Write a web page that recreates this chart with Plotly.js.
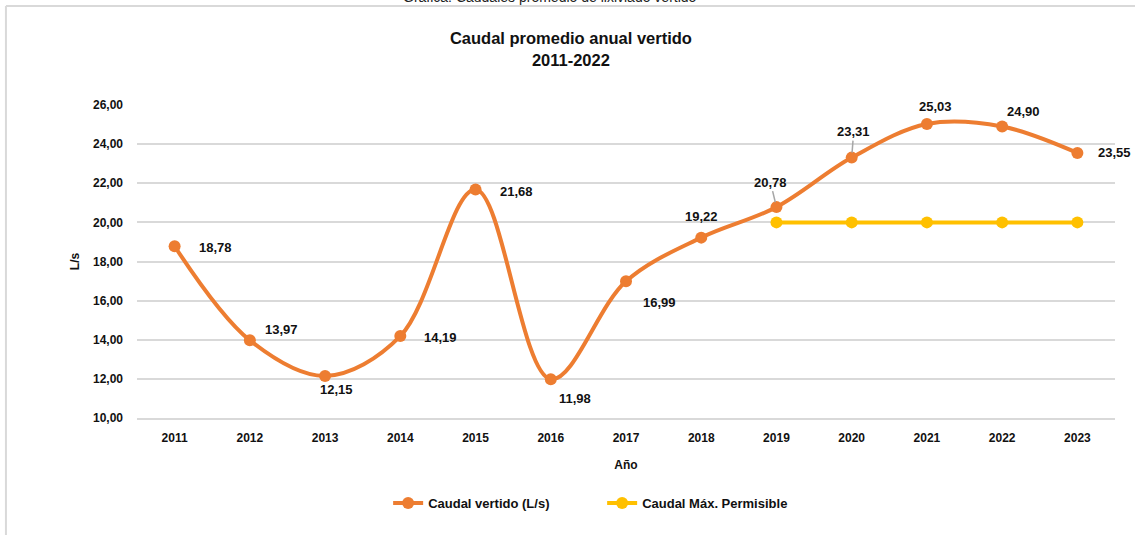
<!DOCTYPE html>
<html>
<head>
<meta charset="utf-8">
<script src="https://cdn.plot.ly/plotly-3.0.1.min.js"></script>
<style>html,body{margin:0;padding:0;background:#fff;}#chart{width:1135px;height:535px;}</style>
</head>
<body>
<div id="chart"></div>
<script>
// ---- data ----
const years = ['2011','2012','2013','2014','2015','2016','2017','2018','2019','2020','2021','2022','2023'];
const caudalVertido = [18.78, 13.97, 12.15, 14.19, 21.68, 11.98, 16.99, 19.22, 20.78, 23.31, 25.03, 24.90, 23.55];
const permYears = ['2019','2020','2021','2022','2023'];
const caudalMaxPermisible = [20, 20, 20, 20, 20];
const yTicks = [10, 12, 14, 16, 18, 20, 22, 24, 26];

// ---- label placement (pixel offsets, style only) ----
const labelOffsets = [
  [41, 1], [32, -11], [11, 14], [40, 1], [41, 2], [24, 19], [33, 21],
  [0, -21], [-6, -25], [2, -26], [9, -17], [21, -15], [37, 0]
];
const leaderIdx = [8, 9];

const FONT = 'Liberation Sans, Arial, sans-serif';
const fmt = v => v.toFixed(2).replace('.', ',');

const annotations = years.map((yr, i) => {
  const base = {
    x: years.indexOf(yr), y: caudalVertido[i], xref: 'x', yref: 'y',
    text: fmt(caudalVertido[i]),
    font: {family: FONT, size: 13, color: '#111', weight: 'bold'}
  };
  if (leaderIdx.includes(i)) {
    return Object.assign(base, {
      showarrow: true, arrowhead: 0, arrowwidth: 1.5, arrowcolor: '#a6a6a6',
      ax: labelOffsets[i][0], ay: labelOffsets[i][1], standoff: 5
    });
  }
  return Object.assign(base, {
    showarrow: false, xshift: labelOffsets[i][0], yshift: -labelOffsets[i][1]
  });
});

annotations.push({
  xref: 'paper', yref: 'paper', x: 0.4223, y: 1.345, xanchor: 'center', yanchor: 'middle',
  showarrow: false, text: 'Gráfica: Caudales promedio de lixiviado vertido',
  font: {family: FONT, size: 14, color: '#222'}
});

const traces = [
  {
    x: years, y: caudalVertido, name: 'Caudal vertido (L/s)',
    type: 'scatter', mode: 'lines+markers',
    line: {color: '#ED7D31', width: 4, shape: 'spline', smoothing: 1},
    marker: {color: '#ED7D31', size: 12}
  },
  {
    x: permYears, y: caudalMaxPermisible, name: 'Caudal Máx. Permisible',
    type: 'scatter', mode: 'lines+markers',
    line: {color: '#FFC000', width: 4},
    marker: {color: '#FFC000', size: 12}
  }
];

const layout = {
  width: 1135, height: 535,
  margin: {l: 137, r: 20, t: 105, b: 117},
  paper_bgcolor: '#fff', plot_bgcolor: '#fff',
  separators: ',.',
  font: {family: FONT, size: 12, color: '#111'},
  title: {
    text: 'Caudal promedio anual vertido<br>2011-2022',
    font: {family: FONT, size: 16.5, color: '#111', weight: 'bold'},
    x: 0.503, xref: 'container', xanchor: 'center',
    y: 0.917, yref: 'container', yanchor: 'top'
  },
  xaxis: {
    type: 'category', categoryorder: 'array', categoryarray: years,
    range: [-0.5, 12.5],
    showgrid: false, zeroline: false,
    showline: true, linecolor: '#d9d9d9', linewidth: 2,
    ticks: '', ticklabelstandoff: 8,
    tickfont: {family: FONT, size: 12, color: '#111', weight: 'bold'},
    title: {text: 'Año', font: {family: FONT, size: 12, color: '#111', weight: 'bold'}, standoff: 16}
  },
  yaxis: {
    range: [10, 26], tickvals: yTicks, tickformat: '.2f',
    showgrid: true, gridcolor: '#d9d9d9', gridwidth: 2,
    zeroline: false, showline: false, ticks: '',
    tickfont: {family: FONT, size: 12, color: '#111', weight: 'bold'},
    ticklabelstandoff: 13,
    title: {text: 'L/s', font: {family: FONT, size: 12, color: '#111', weight: 'bold'}, standoff: 10}
  },
  legend: {
    orientation: 'h', x: 0.4756, xanchor: 'center', y: -0.272, yanchor: 'middle',
    font: {family: FONT, size: 13, color: '#111', weight: 'bold'},
    bgcolor: 'rgba(0,0,0,0)', entrywidth: 169
  },
  shapes: [
    {type: 'line', xref: 'paper', yref: 'paper', x0: -0.134, x1: -0.134, y0: 1.316, y1: -0.4,
     line: {color: '#d9d9d9', width: 2}},
    {type: 'line', xref: 'paper', yref: 'paper', x0: -0.134, x1: 1.03, y0: 1.316, y1: 1.316,
     line: {color: '#d9d9d9', width: 2}}
  ],
  annotations: annotations,
  showlegend: true
};

Plotly.newPlot('chart', traces, layout, {displayModeBar: false, staticPlot: true});
</script>
</body>
</html>
